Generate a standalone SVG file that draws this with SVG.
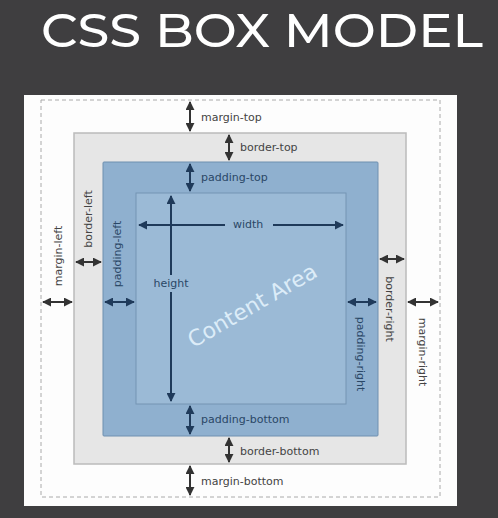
<svg xmlns="http://www.w3.org/2000/svg" width="498" height="518" viewBox="0 0 498 518">
<defs>
<marker id="ad" viewBox="0 0 10 10" refX="9" refY="5" markerWidth="4.5" markerHeight="4.5" orient="auto-start-reverse"><path d="M0,0 L10,5 L0,10 z" fill="#333"/></marker>
<marker id="ab" viewBox="0 0 10 10" refX="9" refY="5" markerWidth="4.5" markerHeight="4.5" orient="auto-start-reverse"><path d="M0,0 L10,5 L0,10 z" fill="#1f3a5a"/></marker>
</defs>
<style>
.lbl{font-family:"DejaVu Sans",Verdana,sans-serif;font-size:11px;fill:#444}
.lblb{font-family:"DejaVu Sans",Verdana,sans-serif;font-size:11px;fill:#2a4766}
.ad{stroke:#333;stroke-width:2;fill:none;marker-start:url(#ad);marker-end:url(#ad)}
.ab{stroke:#1f3a5a;stroke-width:2;fill:none;marker-start:url(#ab);marker-end:url(#ab)}
</style>
<rect width="498" height="518" fill="#3f3e40"/>
<text x="262" y="47" font-family="Montserrat,'Open Sans',Lato,sans-serif" font-size="46" font-weight="500" fill="#ffffff" text-anchor="middle" textLength="442" lengthAdjust="spacingAndGlyphs">CSS BOX MODEL</text>
<g id="panel"><rect x="24" y="95" width="433" height="411" fill="#fdfdfd"/></g>
<g id="margin"><rect x="41" y="100" width="399" height="397" fill="none" stroke="#aaa" stroke-width="1" stroke-dasharray="4,3"/></g>
<g id="border"><rect x="74" y="133" width="332" height="331" fill="#e6e6e6" stroke="#bbbbbb" stroke-width="1.5"/></g>
<g id="padding"><rect x="103" y="162" width="275" height="274" fill="#8fb0cf" stroke="#6f90b0" stroke-width="1" rx="1"/></g>
<g id="content"><rect x="136" y="193" width="210" height="211" fill="#9bbad6" stroke="#7494b3" stroke-width="1"/>
<text x="0" y="0" transform="translate(256,312) rotate(-30)" font-family="'DejaVu Sans',Verdana,sans-serif" font-size="22" fill="#dcecf8" text-anchor="middle">Content Area</text></g>
<g id="connectors">
<line class="ad" x1="190" y1="102" x2="190" y2="131"/>
<line class="ad" x1="229" y1="135" x2="229" y2="160"/>
<line class="ab" x1="190" y1="164" x2="190" y2="191"/>
<line class="ab" x1="190" y1="406" x2="190" y2="434"/>
<line class="ad" x1="229" y1="438" x2="229" y2="462"/>
<line class="ad" x1="190" y1="466" x2="190" y2="495"/>
<line class="ad" x1="43" y1="302" x2="72" y2="302"/>
<line class="ad" x1="76" y1="262" x2="101" y2="262"/>
<line class="ab" x1="105" y1="302" x2="134" y2="302"/>
<line class="ab" x1="348" y1="302" x2="376" y2="302"/>
<line class="ad" x1="380" y1="259" x2="404" y2="259"/>
<line class="ad" x1="408" y1="302" x2="438" y2="302"/>
<line stroke="#1f3a5a" stroke-width="2" x1="139" y1="225" x2="225" y2="225" marker-start="url(#ab)"/>
<line stroke="#1f3a5a" stroke-width="2" x1="273" y1="225" x2="343" y2="225" marker-end="url(#ab)"/>
<line stroke="#1f3a5a" stroke-width="2" x1="171" y1="196" x2="171" y2="275" marker-start="url(#ab)"/>
<line stroke="#1f3a5a" stroke-width="2" x1="171" y1="292" x2="171" y2="401" marker-end="url(#ab)"/>
</g>
<g id="labels">
<text class="lbl" x="201" y="121">margin-top</text>
<text class="lbl" x="240" y="151">border-top</text>
<text class="lblb" x="201" y="181">padding-top</text>
<text class="lblb" x="233" y="228">width</text>
<text class="lblb" x="171" y="287" text-anchor="middle">height</text>
<text class="lblb" x="201" y="423">padding-bottom</text>
<text class="lbl" x="240" y="455">border-bottom</text>
<text class="lbl" x="201" y="485">margin-bottom</text>
<text class="lbl" transform="translate(62,256) rotate(-90)" text-anchor="middle">margin-left</text>
<text class="lbl" transform="translate(92,219) rotate(-90)" text-anchor="middle">border-left</text>
<text class="lblb" transform="translate(121,254) rotate(-90)" text-anchor="middle">padding-left</text>
<text class="lbl" transform="translate(386,309) rotate(90)" text-anchor="middle">border-right</text>
<text class="lblb" transform="translate(357,354) rotate(90)" text-anchor="middle">padding-right</text>
<text class="lbl" transform="translate(419,352) rotate(90)" text-anchor="middle">margin-right</text>
</g>
</svg>
